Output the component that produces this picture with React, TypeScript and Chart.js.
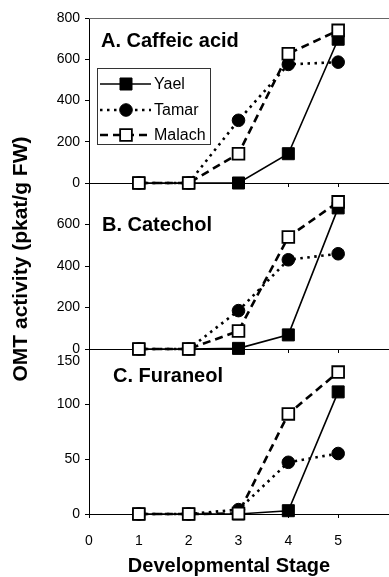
import React, { useEffect, useRef } from 'react';
import { Chart, registerables } from 'chart.js';

Chart.register(...registerables);

// ---- data ----
const stages = [1, 2, 3, 4, 5];
const seriesNames = ['Yael', 'Tamar', 'Malach'];
const panelTitles = ['A. Caffeic acid', 'B. Catechol', 'C. Furaneol'];
const xTickLabels = ['0', '1', '2', '3', '4', '5'];

const caffeicYael = [0, 0, 0, 142, 697];
const caffeicTamar = [0, 0, 304, 575, 586];
const caffeicMalach = [0, 0, 142, 627, 740];

const catecholYael = [0, 0, 3, 68, 680];
const catecholTamar = [0, 0, 185, 430, 459];
const catecholMalach = [0, 0, 87, 540, 709];

const furaneolYael = [0, 0, 0, 3, 111];
const furaneolTamar = [0, 0, 4, 47, 55];
const furaneolMalach = [0, 0, 0.5, 91, 129];

const yTicksA = [0, 200, 400, 600, 800];
const yTicksB = [0, 200, 400, 600];
const yTicksC = [0, 50, 100, 150];

const xAxisTitle = 'Developmental Stage';
const yAxisTitle = 'OMT activity (pkat/g FW)';

// ---- styling / layout ----
const W = 389;
const H = 577;
const FONT = '"Liberation Sans", Arial, Helvetica, sans-serif';
const PLOT_LEFT = 89;
const PLOT_RIGHT = 388;

const seriesStyles = [
  { borderWidth: 1.6, borderDash: [] as number[], pointStyle: 'rect', pointRadius: 8.5, fill: '#000', pointBorderWidth: 1 },
  { borderWidth: 2.6, borderDash: [2.5, 4.5], pointStyle: 'circle', pointRadius: 6.3, fill: '#000', pointBorderWidth: 1 },
  { borderWidth: 2.6, borderDash: [8, 5], pointStyle: 'rect', pointRadius: 8.3, fill: '#fff', pointBorderWidth: 1.8 },
];

type Panel = {
  title: string;
  series: number[][];
  top: number;
  bottom: number;
  ymax: number;
  ticks: number[];
  titleX: number;
  titleY: number;
  showX: boolean;
};

const panels: Panel[] = [
  { title: panelTitles[0], series: [caffeicYael, caffeicTamar, caffeicMalach], top: 18, bottom: 183, ymax: 800, ticks: yTicksA, titleX: 101, titleY: 41, showX: false },
  { title: panelTitles[1], series: [catecholYael, catecholTamar, catecholMalach], top: 183, bottom: 349, ymax: 800, ticks: yTicksB, titleX: 102, titleY: 225, showX: false },
  { title: panelTitles[2], series: [furaneolYael, furaneolTamar, furaneolMalach], top: 349, bottom: 514, ymax: 150, ticks: yTicksC, titleX: 113, titleY: 376, showX: true },
];

function drawMarker(ctx: CanvasRenderingContext2D, style: string, r: number, x: number, y: number, fill: string, bw: number) {
  ctx.save();
  ctx.beginPath();
  if (style === 'rect') {
    const s = Math.SQRT1_2 * r;
    ctx.rect(x - s, y - s, 2 * s, 2 * s);
  } else {
    ctx.arc(x, y, r, 0, Math.PI * 2);
  }
  ctx.fillStyle = fill;
  ctx.fill();
  ctx.setLineDash([]);
  ctx.lineWidth = bw;
  ctx.strokeStyle = '#000';
  ctx.stroke();
  ctx.restore();
}

export default function App() {
  const refs = [useRef<HTMLCanvasElement>(null), useRef<HTMLCanvasElement>(null), useRef<HTMLCanvasElement>(null)];

  useEffect(() => {
    Chart.defaults.font.family = FONT;
    Chart.defaults.color = '#000';
    const charts: Chart[] = [];

    panels.forEach((p, pi) => {
      const canvas = refs[pi].current;
      if (!canvas) return;
      const xH = p.showX ? H - p.bottom : 6;
      const padBottom = H - p.bottom - xH;

      const datasets = p.series.map((vals, si) => {
        const st = seriesStyles[si];
        return {
          label: seriesNames[si],
          data: stages.map((s, i) => ({ x: s, y: vals[i] })),
          borderColor: '#000',
          backgroundColor: st.fill,
          borderWidth: st.borderWidth,
          borderDash: st.borderDash,
          pointStyle: st.pointStyle,
          pointRadius: st.pointRadius,
          pointBackgroundColor: st.fill,
          pointBorderColor: '#000',
          pointBorderWidth: st.pointBorderWidth,
          tension: 0,
          fill: false,
          clip: false as any,
          order: 3 - si,
        };
      });

      const decor = {
        id: 'decor' + pi,
        afterDraw(chart: any) {
          const ctx: CanvasRenderingContext2D = chart.ctx;
          const area = chart.chartArea;
          ctx.save();
          ctx.fillStyle = '#000';
          ctx.font = `bold 20px ${FONT}`;
          ctx.textAlign = 'left';
          ctx.textBaseline = 'middle';
          ctx.fillText(p.title, p.titleX, p.titleY);

          if (pi === 0) {
            // top frame
            ctx.strokeStyle = '#666';
            ctx.lineWidth = 1;
            ctx.beginPath();
            ctx.moveTo(area.left, area.top + 0.5);
            ctx.lineTo(W, area.top + 0.5);
            ctx.stroke();
            // legend box
            const bx = 97.5, by = 68.5, bw = 113, bh = 76;
            ctx.strokeStyle = '#333';
            ctx.lineWidth = 1;
            ctx.strokeRect(bx, by, bw, bh);
            const rows = [84, 110, 135];
            chart.data.datasets.forEach((ds: any, i: number) => {
              const y = rows[i];
              ctx.save();
              ctx.strokeStyle = '#000';
              ctx.lineWidth = ds.borderWidth;
              ctx.setLineDash(ds.borderDash);
              ctx.beginPath();
              ctx.moveTo(100, y);
              ctx.lineTo(151, y);
              ctx.stroke();
              ctx.restore();
              drawMarker(ctx, ds.pointStyle, ds.pointRadius, 126, y, ds.pointBackgroundColor, ds.pointBorderWidth);
              ctx.fillStyle = '#000';
              ctx.font = `16px ${FONT}`;
              ctx.textAlign = 'left';
              ctx.textBaseline = 'middle';
              ctx.fillText(ds.label, 154, y + 1);
            });
          }
          if (pi === 2) {
            const ys = chart.scales.y;
            ctx.font = `14px ${FONT}`;
            ctx.textAlign = 'right';
            ctx.textBaseline = 'middle';
            ctx.fillText(String(p.ticks[p.ticks.length - 1]), 80, ys.getPixelForValue(p.ymax) + 12);
            ctx.font = `bold 20px ${FONT}`;
            ctx.textAlign = 'center';
            ctx.fillText(xAxisTitle, 229, 566);
            ctx.save();
            ctx.translate(21, 259);
            ctx.rotate(-Math.PI / 2);
            ctx.font = `bold 21px ${FONT}`;
            ctx.fillText(yAxisTitle, 0, 0);
            ctx.restore();
          }
          ctx.restore();
        },
      };

      const chart = new Chart(canvas, {
        type: 'line',
        data: { datasets: datasets as any },
        options: {
          animation: false,
          responsive: false,
          maintainAspectRatio: false,
          events: [],
          layout: { autoPadding: false, padding: { top: p.top, bottom: padBottom, left: 0, right: W - PLOT_RIGHT } },
          plugins: { legend: { display: false }, tooltip: { enabled: false } },
          scales: {
            x: {
              type: 'linear',
              min: 0,
              max: 6,
              afterFit: (s: any) => {
                s.height = xH;
                s.paddingLeft = 0;
                s.paddingRight = 0;
              },
              ticks: {
                stepSize: 1,
                padding: 15,
                font: { size: 14 },
                color: '#000',
                callback: (v: any) => (p.showX && v < xTickLabels.length ? xTickLabels[v] : ''),
              },
              grid: {
                display: true,
                drawOnChartArea: false,
                drawTicks: true,
                tickLength: 4,
                color: (c: any) => (c.tick && c.tick.value === 6 ? 'rgba(0,0,0,0)' : '#000'),
              },
              border: { display: true, color: '#000', width: 1 },
            },
            y: {
              type: 'linear',
              min: 0,
              max: p.ymax,
              afterFit: (s: any) => { s.width = PLOT_LEFT; },
              afterBuildTicks: (s: any) => {
                const all: number[] = [];
                for (let v = 0; v <= p.ymax; v += p.ticks[1]) all.push(v);
                s.ticks = all.map((v) => ({ value: v }));
              },
              ticks: {
                padding: 5,
                font: { size: 14 },
                color: '#000',
                callback: (v: any) => (p.ticks.includes(v) && !(pi === 2 && v === p.ymax) ? String(v) : ''),
              },
              grid: {
                display: true,
                drawOnChartArea: false,
                drawTicks: true,
                tickLength: 4,
                color: '#000',
              },
              border: { display: true, color: '#000', width: 1 },
            },
          },
        },
        plugins: [decor],
      });
      charts.push(chart);
    });

    return () => charts.forEach((c) => c.destroy());
  }, []);

  return (
    <div style={{ position: 'fixed', left: 0, top: 0, width: W, height: H, background: '#fff' }}>
      {refs.map((r, i) => (
        <canvas key={i} ref={r} width={W} height={H} style={{ position: 'absolute', left: 0, top: 0, width: W, height: H }} />
      ))}
    </div>
  );
}
